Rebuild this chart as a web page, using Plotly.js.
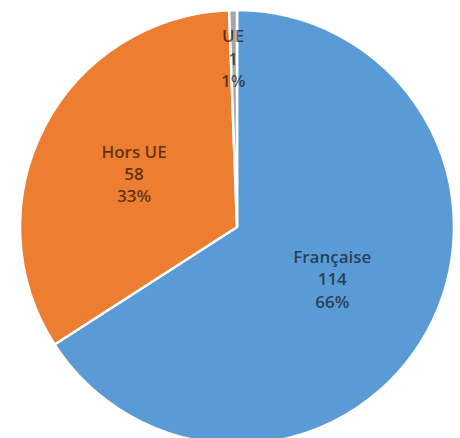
<!DOCTYPE html>
<html>
<head>
<meta charset="utf-8">
<script src="https://cdn.plot.ly/plotly-3.0.1.min.js"></script>
<style>
html,body{margin:0;padding:0;background:#fff;overflow:hidden;}
#chart{width:460px;height:444px;}
</style>
</head>
<body>
<div id="chart"></div>
<script>
const categories = ["Française", "Hors UE", "UE"];
const counts = [114, 58, 1];
const percentLabels = ["66%", "33%", "1%"];
const sliceColors = ["#5B9BD5", "#ED7D31", "#A5A5A5"];

const labelTemplate = "%{label}<br>%{value}<br>%{text}";
const pad = "\u00a0<br>";

const trace = {
  type: "pie",
  labels: categories,
  values: counts,
  text: percentLabels,
  texttemplate: [labelTemplate, labelTemplate, pad + pad + pad + pad + labelTemplate],
  textposition: "inside",
  insidetextorientation: "horizontal",
  sort: false,
  direction: "clockwise",
  rotation: 0,
  marker: { colors: sliceColors, line: { color: "#ffffff", width: 2.5 } },
  textfont: { family: "Open Sans, Liberation Sans, sans-serif", size: 17, weight: 600, color: "rgba(0,0,0,0.6)" },
  hoverinfo: "none"
};

const layout = {
  width: 460,
  height: 444,
  margin: { l: 20, r: 6, t: 10, b: 0 },
  showlegend: false,
  paper_bgcolor: "#ffffff",
  uniformtext: { mode: "show", minsize: 17 }
};

Plotly.newPlot("chart", [trace], layout, { displayModeBar: false, staticPlot: true });
</script>
</body>
</html>
